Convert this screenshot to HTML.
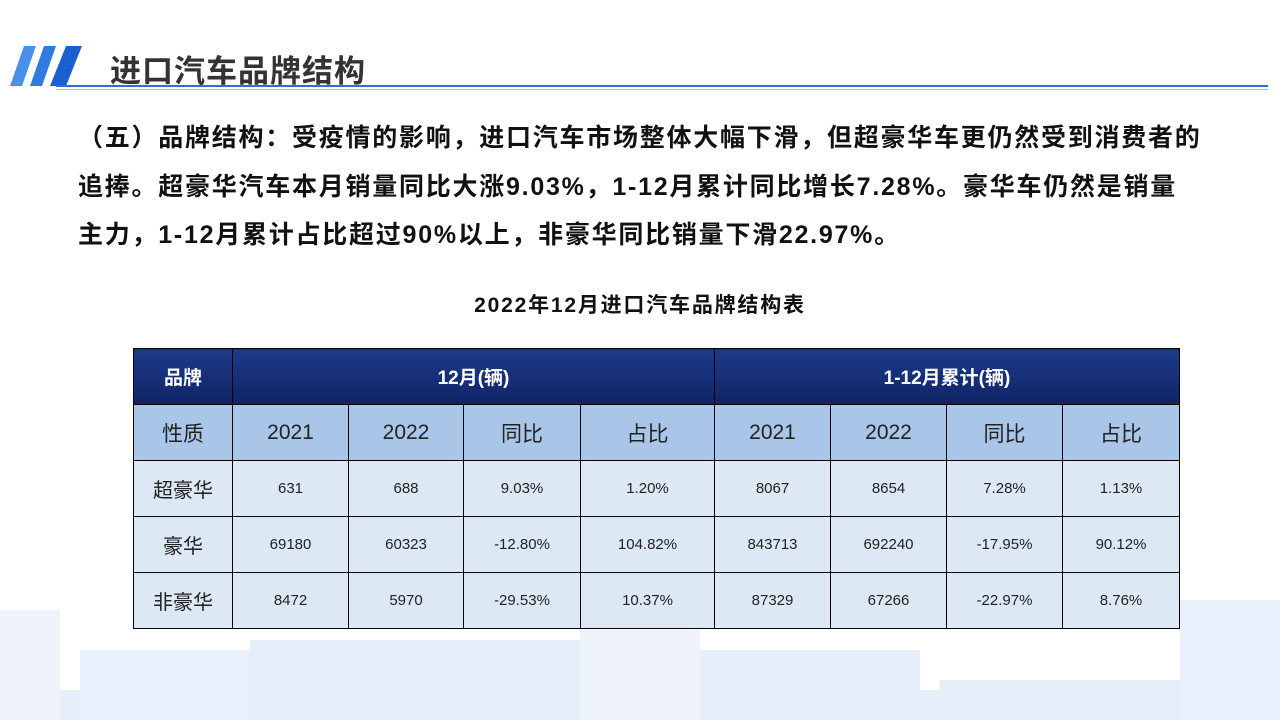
<!DOCTYPE html>
<html><head><meta charset="utf-8"><style>
body{margin:0;width:1280px;height:720px;overflow:hidden;background:#fff;position:relative;font-family:"Liberation Sans","Noto Sans CJK SC",sans-serif}
.b{position:absolute;background:#e6eefa}
.t{position:absolute;white-space:nowrap}
table{position:absolute;left:133px;top:348px;border-collapse:collapse;table-layout:fixed}
td{border:1px solid #000;text-align:center;padding:0;font-size:15px;color:#222;height:55px;font-family:"Liberation Sans Narrow","Liberation Sans","Noto Sans CJK SC",sans-serif}
tr.h td{background:linear-gradient(#1d3a8a,#0e2466);color:#fff;font-weight:bold;font-size:19px;font-family:"Liberation Sans","Noto Sans CJK SC",sans-serif}
tr.s td{background:#a9c6e8;font-size:21px;font-family:"Liberation Sans","Noto Sans CJK SC",sans-serif}
tr.d td{background:#dde8f5}
td.n{font-size:20px}
</style></head><body>
<div class="b" style="left:0;top:690px;width:1280px;height:30px"></div>
<div class="b" style="left:0;top:610px;width:60px;height:110px;background:#eef3fb"></div>
<div class="b" style="left:80px;top:650px;width:170px;height:70px;background:#e9f0fb"></div>
<div class="b" style="left:250px;top:640px;width:330px;height:80px"></div>
<div class="b" style="left:580px;top:630px;width:120px;height:90px;background:#eef3fb"></div>
<div class="b" style="left:700px;top:650px;width:220px;height:70px"></div>
<div class="b" style="left:940px;top:680px;width:340px;height:40px"></div>
<div class="b" style="left:1180px;top:600px;width:100px;height:120px;background:#e9f0fb"></div>
<svg class="t" style="left:10px;top:46px" width="75" height="42"><polygon points="14,0 26,0 12,40 0,40" fill="#4a90e8"/><polygon points="34,0 46,0 32,40 20,40" fill="#2f7be0"/><polygon points="56,0 72,0 56,40 40,40" fill="#1a5fd0"/></svg>
<div class="t" style="left:110px;top:46px;font-size:31px;font-weight:bold;color:#333;letter-spacing:1px">进口汽车品牌结构</div>
<div class="t" style="left:56px;top:85px;width:1212px;height:2px;background:#2b6fcf"></div>
<div class="t" style="left:56px;top:89px;width:1212px;height:1px;background:#9bbce8"></div>
<div class="t" style="left:78px;top:114px;font-size:25px;letter-spacing:1.75px;font-weight:bold;color:#111;line-height:48.5px">（五）品牌结构：受疫情的影响，进口汽车市场整体大幅下滑，但超豪华车更仍然受到消费者的<br>追捧。超豪华汽车本月销量同比大涨9.03%，1-12月累计同比增长7.28%。豪华车仍然是销量<br>主力，1-12月累计占比超过90%以上，非豪华同比销量下滑22.97%。</div>
<div class="t" style="left:0;width:1280px;text-align:center;top:289px;font-size:21px;letter-spacing:1.8px;font-weight:bold;color:#111">2022年12月进口汽车品牌结构表</div>
<table>
<colgroup><col style="width:99px"><col style="width:116px"><col style="width:115px"><col style="width:117px"><col style="width:134px"><col style="width:116px"><col style="width:116px"><col style="width:116px"><col style="width:117px"></colgroup>
<tr class="h"><td>品牌</td><td colspan="4">12月(辆)</td><td colspan="4">1-12月累计(辆)</td></tr>
<tr class="s"><td>性质</td><td>2021</td><td>2022</td><td>同比</td><td>占比</td><td>2021</td><td>2022</td><td>同比</td><td>占比</td></tr>
<tr class="d"><td class="n">超豪华</td><td>631</td><td>688</td><td>9.03%</td><td>1.20%</td><td>8067</td><td>8654</td><td>7.28%</td><td>1.13%</td></tr>
<tr class="d"><td class="n">豪华</td><td>69180</td><td>60323</td><td>-12.80%</td><td>104.82%</td><td>843713</td><td>692240</td><td>-17.95%</td><td>90.12%</td></tr>
<tr class="d"><td class="n">非豪华</td><td>8472</td><td>5970</td><td>-29.53%</td><td>10.37%</td><td>87329</td><td>67266</td><td>-22.97%</td><td>8.76%</td></tr>
</table>
</body></html>
